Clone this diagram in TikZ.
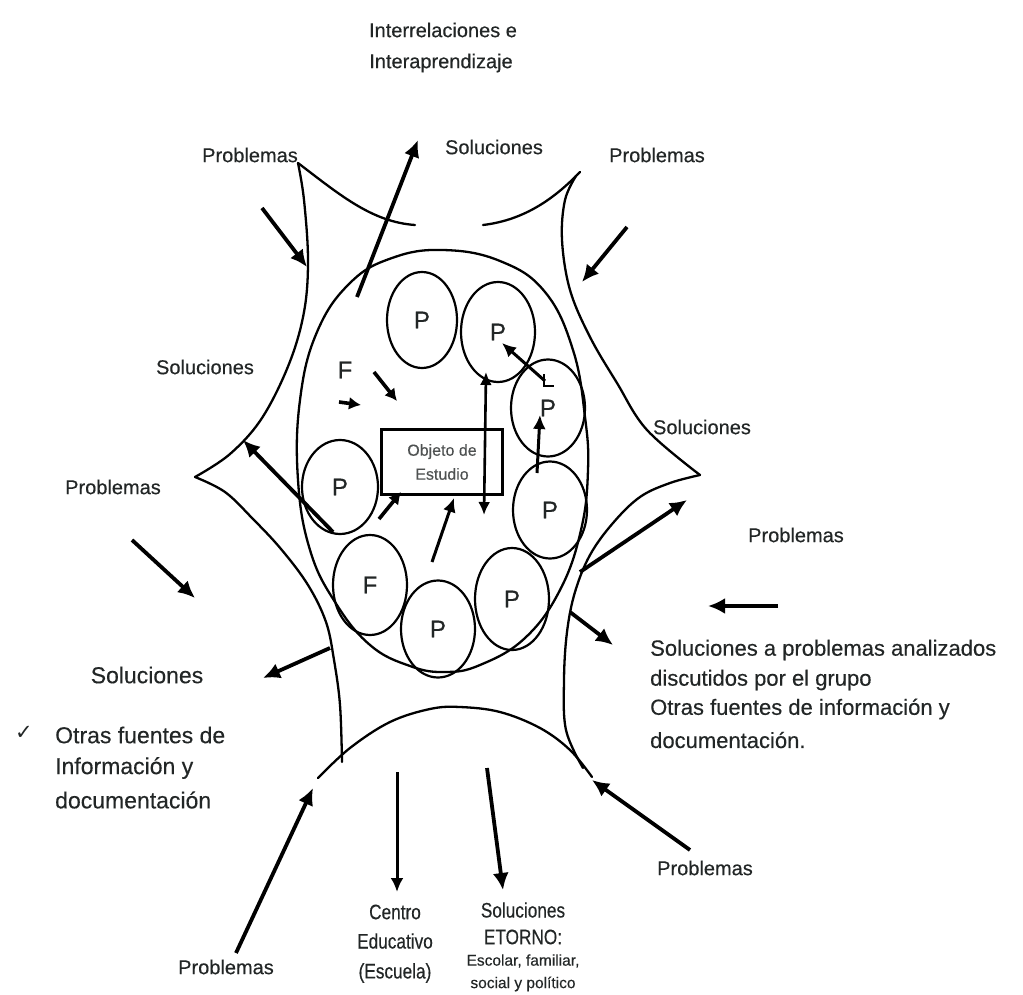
\documentclass[tikz,border=0pt]{standalone}
\usepackage{fontspec}
\setmainfont{Liberation Sans}[FakeBold=0.35]
\newfontfamily\narrowf{Liberation Sans}[FakeStretch=0.82,FakeBold=0.35]
\newfontfamily\symf{DejaVu Sans}
\usetikzlibrary{arrows.meta,shapes.geometric}
\definecolor{txt}{RGB}{34,38,38}
\begin{document}
\begin{tikzpicture}[x=1pt,y=-1pt,
  outline/.style={line width=2.3pt, line join=round, line cap=round},
  pcirc/.style={draw, ellipse, line width=2.2pt, minimum width=74pt, minimum height=97pt, inner sep=0pt, text=txt, font=\fontsize{24}{28}\selectfont},
  bigarr/.style={line width=3.8pt, -{Latex[length=17pt,width=16pt]}},
  midarr/.style={line width=3pt, -{Latex[length=14pt,width=13pt]}},
  smallarr/.style={line width=3.6pt, -{Latex[length=12pt,width=13pt]}},
  lbl/.style={text=txt, inner sep=0pt, font=\fontsize{20}{24}\selectfont},
  big/.style={text=txt, inner sep=0pt, font=\fontsize{23}{28}\selectfont},
  nar/.style={text=txt, inner sep=0pt, font=\narrowf\fontsize{21}{25}\selectfont},
  small/.style={text=txt, inner sep=0pt, font=\fontsize{15.5}{18}\selectfont},
]
\useasboundingbox (0,0) rectangle (1023,995);

% ---------- outer star-shaped frame ----------
\draw[outline] (298,163) .. controls (340,195) and (372,222) .. (415,225);
\draw[outline] (483,225) .. controls (525,220) and (555,198) .. (580,172);
\draw[outline] plot[smooth, tension=0.6] coordinates {(576,176) (565,200) (562,240) (570,290) (590,337) (617,383) (647,430) (700,475)};
\draw[outline] plot[smooth, tension=0.6] coordinates {(700,475) (670,483) (640,497) (613,523) (590,555) (575,592) (567,632) (564,680) (566,730) (583,768)};
\draw[outline] plot[smooth, tension=0.6] coordinates {(318,778) (350,748) (390,722) (430,709) (460,707) (500,712) (540,728) (570,750) (592,777)};
\draw[outline] plot[smooth, tension=0.6] coordinates {(195,477) (225,492) (253,519) (281,549) (308,585) (326,622) (334,660) (340,705) (342,762)};
\draw[outline] plot[smooth, tension=0.6] coordinates {(298,163) (304,200) (308,260) (304,312) (289,364) (262,418) (230,454) (195,477)};

% ---------- group shape, circles, object box ----------
\draw[outline] plot[smooth cycle, tension=0.7] coordinates {(443,250) (500,261) (545,292) (573,350) (585,417) (588,470) (581,530) (560,590) (525,638) (480,665) (445,672) (410,666) (370,645) (335,602) (310,550) (298,480) (300,400) (317,332) (350,283) (392,258)};
\node[pcirc, minimum width=70pt, minimum height=96pt] (p1) at (422,320) {P};
\node[pcirc, minimum height=100pt] (p2) at (498,332) {P};
\node[pcirc] (p3) at (548,408) {P};
\node[pcirc] (p4) at (550,510) {P};
\node[pcirc, minimum height=102pt] (p5) at (512,599) {P};
\node[pcirc] (p6) at (438,629) {P};
\node[pcirc, minimum height=100pt] (f2) at (370,585) {F};
\node[pcirc, minimum width=76pt, minimum height=94pt] (p7) at (340,487) {P};
\node[text=txt, inner sep=0pt, font=\fontsize{24}{28}\selectfont] (f1) at (345,370) {F};
\node[draw, line width=2.3pt, minimum width=121pt, minimum height=65pt, inner sep=0pt, align=center, text=txt!80, font=\fontsize{16}{24}\selectfont] (box) at (442,462) {Objeto de\\Estudio};

% ---------- labels ----------
\node[lbl] (t1) at (443,30) {Interrelaciones e};
\node[lbl] (t2) at (441,63) {Interaprendizaje};
\node[lbl] (prTL) at (250,155) {Problemas};
\node[lbl] (soT) at (494,147) {Soluciones};
\node[lbl] (prTR) at (657,155) {Problemas};
\node[lbl] (soL) at (205,367) {Soluciones};
\node[lbl] (prL) at (113,487) {Problemas};
\node[lbl] (soR) at (702,427) {Soluciones};
\node[lbl] (prR) at (796,535) {Problemas};
\node[big] (soLL) at (147,675) {Soluciones};
\node[text=txt, inner sep=0pt, font=\symf\fontsize{21}{24}\selectfont] (check) at (24,733) {✓};
\node[big, anchor=west] (ol1) at (55,735) {Otras fuentes de};
\node[big, anchor=west] (ol2) at (55,768) {Información y};
\node[big, anchor=west] (ol3) at (55,800) {documentación};
\node[big, font=\fontsize{22}{26}\selectfont, anchor=west] (r1) at (650,650) {Soluciones a problemas analizados};
\node[big, font=\fontsize{22}{26}\selectfont, anchor=west] (r2) at (650,680) {discutidos por el grupo};
\node[big, font=\fontsize{22}{26}\selectfont, anchor=west] (r3) at (650,709) {Otras fuentes de información y};
\node[big, font=\fontsize{22}{26}\selectfont, anchor=west] (r4) at (650,740) {documentación.};
\node[lbl] (prBR) at (705,868) {Problemas};
\node[lbl] (prBL) at (226,967) {Problemas};
\node[nar] (c1) at (395,912) {Centro};
\node[nar] (c2) at (395,941) {Educativo};
\node[nar] (c3) at (395,973) {(Escuela)};
\node[nar] (s1) at (523,910) {Soluciones};
\node[nar] (s2) at (523,937) {ETORNO:};
\node[small] (s3) at (523,961) {Escolar, familiar,};
\node[small] (s4) at (523,984) {social y político};

% ---------- arrow end points ----------
\coordinate (a1s) at (262,208); \coordinate (a1e) at (307,267);
\coordinate (a2s) at (357,297); \coordinate (a2e) at (418,140);
\coordinate (a3s) at (627,227); \coordinate (a3e) at (582,282);
\coordinate (a4s) at (333,532); \coordinate (a4e) at (243,440);
\coordinate (a5s) at (132,540); \coordinate (a5e) at (195,598);
\coordinate (a6s) at (330,648); \coordinate (a6e) at (263,678);
\coordinate (a7s) at (580,572); \coordinate (a7e) at (687,500);
\coordinate (a8s) at (570,612); \coordinate (a8e) at (613,645);
\coordinate (a9s) at (778,606); \coordinate (a9e) at (708,606);
\coordinate (a10s) at (236,953); \coordinate (a10e) at (313,788);
\coordinate (a11s) at (397,772); \coordinate (a11e) at (397,892);
\coordinate (a12s) at (487,768); \coordinate (a12e) at (503,890);
\coordinate (a13s) at (690,850); \coordinate (a13e) at (592,780);

\coordinate (i1s) at (339,402); \coordinate (i1e) at (361,405);
\coordinate (i2s) at (374,372); \coordinate (i2e) at (397,401);
\coordinate (i3s) at (379,519); \coordinate (i3e) at (401,492);
\coordinate (i4s) at (432,562); \coordinate (i4e) at (454,498);
\coordinate (i5s) at (484,515); \coordinate (i5e) at (486,372);
\coordinate (i6s) at (545,381); \coordinate (i6e) at (502,343);
\coordinate (i7s) at (537,473); \coordinate (i7e) at (540,415);
\coordinate (tk1) at (544,374); \coordinate (tk2) at (544,386); \coordinate (tk3) at (554,386);

% ---------- outer arrows ----------
\draw[bigarr] (a1s) -- (a1e);
\draw[bigarr] (a2s) -- (a2e);
\draw[bigarr] (a3s) -- (a3e);
\draw[bigarr] (a4s) -- (a4e);
\draw[bigarr] (a5s) -- (a5e);
\draw[bigarr] (a6s) -- (a6e);
\draw[bigarr] (a7s) -- (a7e);
\draw[bigarr] (a8s) -- (a8e);
\draw[bigarr] (a9s) -- (a9e);
\draw[bigarr] (a10s) -- (a10e);
\draw[midarr] (a11s) -- (a11e);
\draw[bigarr] (a12s) -- (a12e);
\draw[bigarr] (a13s) -- (a13e);

% ---------- inner arrows ----------
\draw[smallarr] (i1s) -- (i1e);
\draw[smallarr] (i2s) -- (i2e);
\draw[smallarr] (i3s) -- (i3e);
\draw[midarr] (i4s) -- (i4e);
\draw[line width=2.6pt, {Latex[length=13pt,width=12pt]}-{Latex[length=13pt,width=12pt]}] (i5s) -- (i5e);
\draw[midarr] (i6s) -- (i6e);
\draw[midarr] (i7s) -- (i7e);
\draw[line width=2.3pt] (tk1) -- (tk2) -- (tk3);
\end{tikzpicture}
\end{document}
